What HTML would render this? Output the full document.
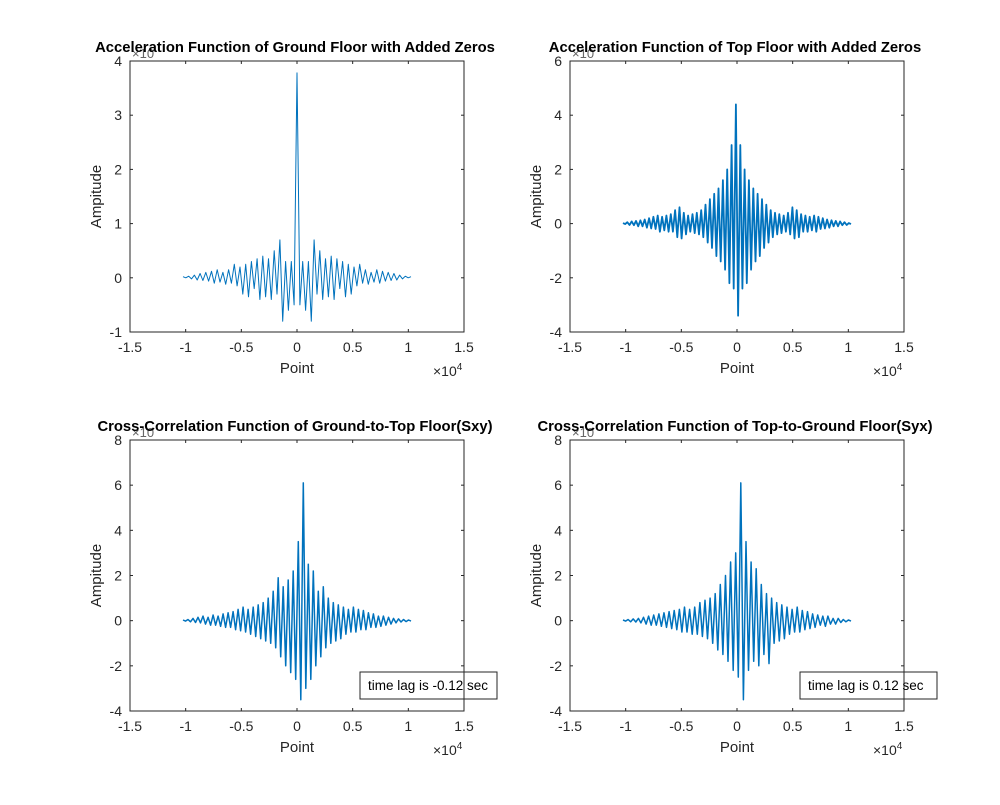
<!DOCTYPE html>
<html><head><meta charset="utf-8"><style>
body{margin:0;background:#fff}
svg text{font-family:"Liberation Sans",Arial,sans-serif}
</style></head><body>
<svg id="fig" width="1000" height="800" xmlns="http://www.w3.org/2000/svg">
<rect width="1000" height="800" fill="#fff"/>
</svg>
<script>
const xTicks=[-1.5,-1,-0.5,0,0.5,1,1.5];
const xTickLabels=["-1.5","-1","-0.5","0","0.5","1","1.5"];
const groundVals=[0.02,0.0,0.03,-0.02,0.05,-0.04,0.08,-0.05,0.1,-0.06,0.12,-0.1,0.15,-0.08,0.1,-0.12,0.15,-0.1,0.25,-0.15,0.2,-0.3,0.25,-0.35,0.3,-0.2,0.35,-0.4,0.4,-0.35,0.35,-0.4,0.5,-0.3,0.7,-0.8,0.3,-0.6,0.3,-0.5,3.78,-0.5,0.3,-0.6,0.3,-0.8,0.7,-0.3,0.5,-0.4,0.35,-0.35,0.4,-0.4,0.35,-0.2,0.3,-0.35,0.25,-0.3,0.2,-0.15,0.25,-0.1,0.15,-0.12,0.1,-0.08,0.15,-0.1,0.12,-0.06,0.1,-0.05,0.08,-0.04,0.05,-0.02,0.03,0.0,0.02];
const topVals=[0.02,-0.02,0.05,-0.05,0.08,-0.06,0.1,-0.1,0.12,-0.1,0.15,-0.15,0.2,-0.18,0.25,-0.2,0.3,-0.3,0.25,-0.25,0.3,-0.3,0.35,-0.3,0.5,-0.5,0.6,-0.55,0.4,-0.4,0.3,-0.3,0.35,-0.35,0.4,-0.4,0.5,-0.5,0.7,-0.7,0.9,-0.9,1.1,-1.2,1.3,-1.4,1.6,-1.7,2.0,-2.2,2.9,-2.4,4.4,-3.4,2.9,-2.4,2.0,-2.2,1.6,-1.7,1.3,-1.4,1.1,-1.2,0.9,-0.9,0.7,-0.7,0.5,-0.5,0.4,-0.4,0.35,-0.35,0.3,-0.3,0.4,-0.4,0.6,-0.55,0.5,-0.5,0.35,-0.3,0.3,-0.3,0.25,-0.25,0.3,-0.3,0.25,-0.2,0.2,-0.18,0.15,-0.15,0.12,-0.1,0.1,-0.1,0.08,-0.06,0.05,-0.05,0.02,-0.02];
const sxyVals=[0.03,-0.02,0.05,-0.05,0.1,-0.08,0.15,-0.1,0.2,-0.15,0.15,-0.2,0.25,-0.2,0.2,-0.25,0.3,-0.3,0.35,-0.3,0.4,-0.4,0.5,-0.45,0.6,-0.5,0.5,-0.6,0.6,-0.7,0.7,-0.8,0.8,-0.9,1.0,-1.0,1.3,-1.2,1.9,-1.6,1.5,-2.0,1.8,-2.3,2.2,-2.6,3.5,-3.5,6.1,-3.0,2.5,-2.6,2.2,-2.0,1.3,-1.6,1.5,-1.2,1.0,-1.0,0.8,-0.9,0.7,-0.8,0.6,-0.6,0.5,-0.5,0.6,-0.5,0.5,-0.4,0.45,-0.4,0.35,-0.3,0.3,-0.3,0.2,-0.25,0.2,-0.2,0.15,-0.15,0.1,-0.1,0.08,-0.06,0.05,-0.04,0.03,-0.02];
const syxVals=[0.03,-0.02,0.05,-0.05,0.08,-0.06,0.1,-0.1,0.15,-0.15,0.2,-0.2,0.25,-0.2,0.3,-0.25,0.35,-0.3,0.4,-0.35,0.45,-0.4,0.5,-0.5,0.6,-0.5,0.5,-0.6,0.6,-0.6,0.8,-0.7,0.9,-0.8,1.0,-1.0,1.2,-1.3,1.6,-1.5,2.0,-1.8,2.6,-2.2,3.0,-2.5,6.1,-3.5,3.5,-2.2,2.6,-1.8,2.3,-2.0,1.6,-1.5,1.2,-1.9,1.0,-1.0,0.8,-0.9,0.7,-0.8,0.6,-0.6,0.5,-0.5,0.6,-0.5,0.45,-0.4,0.4,-0.35,0.3,-0.3,0.25,-0.2,0.2,-0.25,0.2,-0.15,0.1,-0.15,0.1,-0.08,0.05,-0.05,0.03,-0.02];
const plots=[
 {name:"ground-acceleration",L:130,T:61,title:"Acceleration Function of Ground Floor with Added Zeros",ymin:-1,ymax:4,yticks:[-1,0,1,2,3,4],vals:groundVals,lag:null,sw:1},
 {name:"top-acceleration",L:570,T:61,title:"Acceleration Function of Top Floor with Added Zeros",ymin:-4,ymax:6,yticks:[-4,-2,0,2,4,6],vals:topVals,lag:null,sw:1.8},
 {name:"cross-correlation-sxy",L:130,T:440,title:"Cross-Correlation Function of Ground-to-Top Floor(Sxy)",ymin:-4,ymax:8,yticks:[-4,-2,0,2,4,6,8],vals:sxyVals,lag:"time lag is -0.12 sec",sw:1.5},
 {name:"cross-correlation-syx",L:570,T:440,title:"Cross-Correlation Function of Top-to-Ground Floor(Syx)",ymin:-4,ymax:8,yticks:[-4,-2,0,2,4,6,8],vals:syxVals,lag:"time lag is 0.12 sec",sw:1.5}
];
const W=334,H=271,NS="http://www.w3.org/2000/svg";
const fig=document.getElementById('fig');
function mk(tag,at,parent,txt){const e=document.createElementNS(NS,tag);for(const k in at)e.setAttribute(k,at[k]);if(txt!=null)e.textContent=txt;(parent||fig).appendChild(e);return e;}
plots.forEach(p=>{
 const g=mk('g',{});
 
 
 const xs=v=>p.L+(v+1.5)/3*W;
 const ys=v=>p.T+H-(v-p.ymin)/(p.ymax-p.ymin)*H;
 const n=p.vals.length;
 let d='';
 p.vals.forEach((v,i)=>{const xv=-1.024+2.048*i/(n-1);d+=(i?'L':'M')+xs(xv).toFixed(1)+' '+ys(v).toFixed(1);});
 const ln=mk('path',{d:d,fill:'none',stroke:'#0072BD','stroke-width':p.sw,'stroke-linejoin':'round'},g);
 
 
 mk('rect',{x:p.L,y:p.T,width:W,height:H,fill:'none',stroke:'#262626','stroke-width':1},g);
 xTicks.forEach((t,i)=>{const x=xs(t);
  mk('line',{x1:x,x2:x,y1:p.T+H,y2:p.T+H-3,stroke:'#262626'},g);
  mk('line',{x1:x,x2:x,y1:p.T,y2:p.T+3,stroke:'#262626'},g);
  const tl=mk('text',{x:x,y:p.T+H+20,'font-size':14,fill:'#262626','text-anchor':'middle'},g,xTickLabels[i]);
  
  
 });
 p.yticks.forEach(t=>{const y=ys(t);
  mk('line',{x1:p.L,x2:p.L+3,y1:y,y2:y,stroke:'#262626'},g);
  mk('line',{x1:p.L+W,x2:p.L+W-3,y1:y,y2:y,stroke:'#262626'},g);
  const tl=mk('text',{x:p.L-8,y:y+5,'font-size':14,fill:'#262626','text-anchor':'end'},g,String(t));
  
  
 });
 const xl=mk('text',{x:p.L+W/2,y:p.T+H+41,'font-size':15,fill:'#262626','text-anchor':'middle'},g,'Point');
 
 
 const yl=mk('text',{transform:`translate(${p.L-29},${p.T+H/2}) rotate(-90)`,'font-size':15,fill:'#262626','text-anchor':'middle'},g,'Ampitude');
 
 
 const ex=mk('text',{x:p.L+W-31,y:p.T+H+44,'font-size':14,fill:'#262626'},g);
 
 
 mk('tspan',{},ex,'×10');mk('tspan',{dy:-6,'font-size':10},ex,'4');
 const ey=mk('text',{x:p.L+2,y:p.T-3,'font-size':13,fill:'#666'},g,'×10');
 
 
 const tt=mk('text',{x:p.L+W/2-2,y:p.T-9,'font-size':14.8,'font-weight':'bold',fill:'#000','text-anchor':'middle'},g,p.title);
 
 
 if(p.lag){
  const bx=mk('g',{},g);
  
  
  mk('rect',{x:p.L+W-104,y:p.T+232,width:137,height:27,fill:'none',stroke:'#262626','stroke-width':1},bx);
  mk('text',{x:p.L+W-96,y:p.T+250,'font-size':13.5,fill:'#000'},bx,p.lag);
 }
});
</script>
</body></html>
